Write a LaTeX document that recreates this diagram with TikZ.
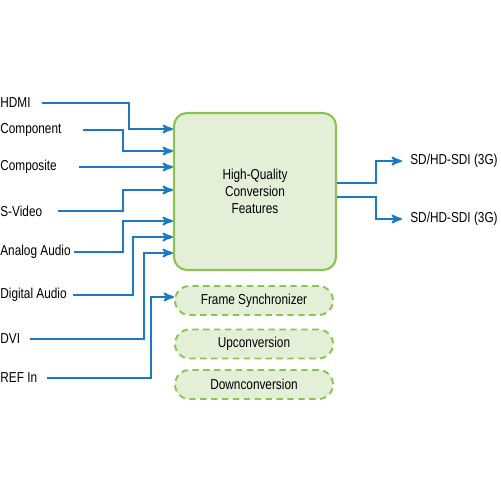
\documentclass[tikz,border=0pt]{standalone}
\usepackage{fontspec}
\setmainfont[FakeStretch=0.82]{Liberation Sans}
\usepackage{xcolor}
\usepackage{tikz}
\usetikzlibrary{arrows}
\definecolor{wireblue}{HTML}{1B7BC2}
\definecolor{boxgreen}{HTML}{8DC451}
\definecolor{boxfill}{HTML}{E4EFD8}
\tikzset{
    lbl/.style = {anchor=west, inner sep=0pt, font=\fontsize{8.2}{9.6}\selectfont},
    outlbl/.style = {lbl, inner sep=0.16cm},
    wire/.style = {->, draw=wireblue, line width=1.1pt},
    convbox/.style = {rectangle, rounded corners=0.26cm, draw=boxgreen, fill=boxfill, line width=1.2pt,
        minimum width=3.24cm, minimum height=3.14cm, align=center, font=\fontsize{8.2}{9.8}\selectfont},
    featbox/.style = {rectangle, rounded corners=0.29cm, draw=boxgreen, fill=boxfill, line width=1.1pt,
        dash pattern=on 3.6pt off 2.6pt, minimum width=3.16cm, minimum height=0.58cm, font=\fontsize{8.2}{9.6}\selectfont}
}
\begin{document}
\begin{tikzpicture}
            [x=0.02cm, y=-0.02cm, >=stealth']
            \useasboundingbox (0,0) rectangle (500,500);

            \node [convbox] (conv) at (255,191.5) {High-Quality\\Conversion\\Features};
            \node [featbox] (fsync) at (254,300.5) {Frame Synchronizer};
            \node [featbox] (upconv) at (254,344) {Upconversion};
            \node [featbox] (downconv) at (254,384.5) {Downconversion};

            \node [lbl] (hdmi) at (0,103) {HDMI};
            \node [lbl] (component) at (0,130) {Component};
            \node [lbl] (composite) at (0,167) {Composite};
            \node [lbl] (svideo) at (0,211) {S-Video};
            \node [lbl] (analog) at (0,252) {Analog Audio};
            \node [lbl] (digital) at (0,295) {Digital Audio};
            \node [lbl] (dvi) at (0,339) {DVI};
            \node [lbl] (refin) at (0,378) {REF In};

            \coordinate (hdmi-s) at (42,103);
            \coordinate (component-s) at (83,130);
            \coordinate (composite-s) at (79,167);
            \coordinate (svideo-s) at (58,211);
            \coordinate (analog-s) at (74,252);
            \coordinate (digital-s) at (73,295);
            \coordinate (dvi-s) at (30,339);
            \coordinate (refin-s) at (47,378);

            \draw [wire] (hdmi-s) -| (129,129) -- (conv.west |- 0,129);
            \draw [wire] (component-s) -| (123,151) -- (conv.west |- 0,151);
            \draw [wire] (composite-s) -- (conv.west |- 0,167);
            \draw [wire] (svideo-s) -| (123,190) -- (conv.west |- 0,190);
            \draw [wire] (analog-s) -| (123,221) -- (conv.west |- 0,221);
            \draw [wire] (digital-s) -| (133,237) -- (conv.west |- 0,237);
            \draw [wire] (dvi-s) -| (144,253) -- (conv.west |- 0,253);
            \draw [wire] (refin-s) -| (151,297) -- (fsync.west |- 0,297);

            \node [outlbl] (sdi1) at (402,161) {SD/HD-SDI (3G)};
            \node [outlbl] (sdi2) at (402,219) {SD/HD-SDI (3G)};

            \draw [wire] (conv.east |- 0,183) -| (376,161) -- (sdi1.west);
            \draw [wire] (conv.east |- 0,197) -| (376,219) -- (sdi2.west);
        \end{tikzpicture}
\end{document}
